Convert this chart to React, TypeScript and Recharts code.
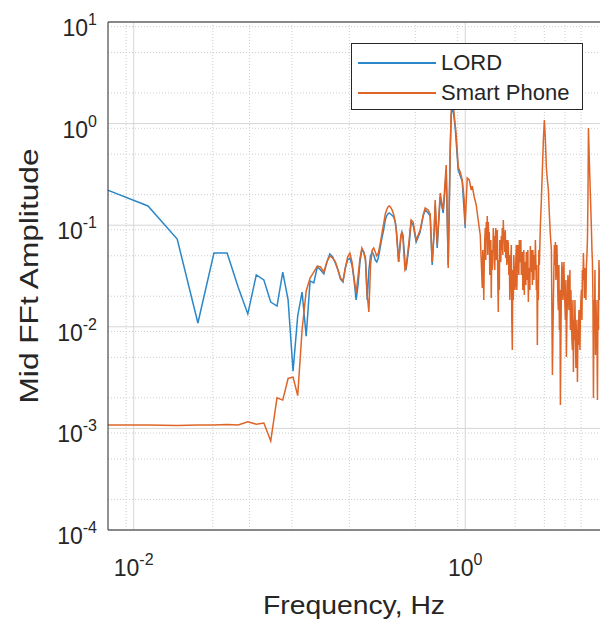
import { LineChart, Line, XAxis, YAxis, CartesianGrid, ReferenceLine, Legend, Label } from "recharts";

const FONT = '"Liberation Sans", Arial, Helvetica, sans-serif';
const AXIS = "#262626";
const BLUE = "#2b87c8";
const ORANGE = "#de6527";

// FFT bins at the low end (shared by both sensors)
const lowFreq = [
  0.0061, 0.0122, 0.0183, 0.0244, 0.0305, 0.0366, 0.0427, 0.0488, 0.0549, 0.061,
  0.0671, 0.0732, 0.0793, 0.0854, 0.0915, 0.0976, 0.1037, 0.1098, 0.1159, 0.122,
  0.1281, 0.1342, 0.1403, 0.1464, 0.1525, 0.1586, 0.1647, 0.1708, 0.1769, 0.183,
  0.1891, 0.1952, 0.2013, 0.2074, 0.2135, 0.2196, 0.2257, 0.2318, 0.2379, 0.244,
  0.2501, 0.2562, 0.2623, 0.2684, 0.2745, 0.2806, 0.2867, 0.2928, 0.2989, 0.305,
  0.3111, 0.3172, 0.3233, 0.3294, 0.3355, 0.3416, 0.3477, 0.3538, 0.3599, 0.366,
  0.3721, 0.3782, 0.3843, 0.3904, 0.3965, 0.4026, 0.4087, 0.4148, 0.4209, 0.427,
  0.4331, 0.4392,
];

const lordLowAmp = [
  0.241, 0.1545, 0.0731, 0.0109, 0.0533, 0.0533, 0.0245, 0.0134, 0.0324, 0.0289,
  0.0175, 0.016, 0.0346, 0.0184, 0.00366, 0.0128, 0.022, 0.0081, 0.0283, 0.027,
  0.0388, 0.0362, 0.0331, 0.0435, 0.0521, 0.0486, 0.0425, 0.0362, 0.0295, 0.0276,
  0.0379, 0.0454, 0.0475, 0.0406, 0.0289, 0.0184, 0.0258, 0.0435, 0.057, 0.0545,
  0.0475, 0.0184, 0.0362, 0.0498, 0.0545, 0.0509, 0.0454, 0.0435, 0.0475, 0.057,
  0.0684, 0.0801, 0.0938, 0.1125, 0.1233, 0.129, 0.132, 0.129, 0.126, 0.1233,
  0.1178, 0.1075, 0.0897, 0.0639, 0.0435, 0.057, 0.0748, 0.0857, 0.0801, 0.0597,
  0.0435, 0.0362,
];

const phoneLowAmp = [
  0.00108, 0.00108, 0.00107, 0.00108, 0.00108, 0.00109, 0.00108, 0.00116, 0.0011, 0.00113,
  0.00075, 0.002, 0.0019, 0.0031, 0.0032, 0.0021, 0.0093, 0.0225, 0.0302, 0.0346,
  0.0396, 0.0388, 0.0346, 0.0435, 0.0498, 0.0475, 0.0435, 0.0362, 0.0302, 0.0282,
  0.0379, 0.0486, 0.0532, 0.0435, 0.0302, 0.0215, 0.0316, 0.0475, 0.0597, 0.0545,
  0.0454, 0.0206, 0.014, 0.0406, 0.057, 0.0597, 0.0545, 0.0498, 0.0532, 0.0624,
  0.0748, 0.0897, 0.1075, 0.129, 0.141, 0.151, 0.1545, 0.151, 0.144, 0.135,
  0.1233, 0.1075, 0.0857, 0.0597, 0.0435, 0.0597, 0.0783, 0.0857, 0.0748, 0.0509,
  0.0362, 0.0379,
];

const lordHighFreq = [
  0.4587, 0.4717, 0.4851, 0.5057, 0.5347, 0.5575, 0.5732, 0.5976, 0.6145, 0.6318,
  0.6496, 0.6587, 0.6773, 0.7063, 0.7262, 0.7365, 0.7572, 0.7678, 0.7894, 0.8116,
  0.823, 0.8405, 0.8701, 0.9072, 0.9591, 1.0,
];
const lordHighAmp = [
  0.0639, 0.1075, 0.1005, 0.0684, 0.0857, 0.1232, 0.1411, 0.1318, 0.1232, 0.0406,
  0.0857, 0.158, 0.0597, 0.1895, 0.1477, 0.1318, 0.243, 0.3494, 0.0406, 0.53,
  1.2, 1.52, 0.905, 0.349, 0.27, 0.0938,
];

const phoneHighFreq = [
  0.4587, 0.4717, 0.4851, 0.5057, 0.5347, 0.5575, 0.5732, 0.5976, 0.6145, 0.6318,
  0.6496, 0.6587, 0.6773, 0.7063, 0.7262, 0.7365, 0.7572, 0.7678, 0.7894, 0.8116,
  0.823, 0.8405, 0.8463, 0.8701, 0.8822, 0.9072, 0.9328, 0.9591, 0.9862, 1.0,
  1.0282, 1.0573, 1.0871, 1.1023, 1.1334, 1.1654, 1.1817, 1.2151, 1.2321, 1.2668,
  1.2846, 1.3025, 1.3393, 1.358, 1.3772, 1.416, 1.4358, 1.4558, 1.4764, 1.518,
  1.5392, 1.5827, 1.6048, 1.6275, 1.6502, 1.6967, 1.7204, 1.7689, 1.7939, 1.819,
  1.8703, 1.9231, 1.9498, 1.9774, 2.005, 2.0615, 2.0902, 2.12, 2.1496, 2.18,
  2.2104, 2.2412, 2.2729, 2.3046, 2.3371, 2.3697, 2.4028, 2.4367, 2.4707, 2.5056,
  2.5405, 2.5764, 2.6123, 2.6487, 2.6853, 2.7227, 2.7612, 2.7996, 2.8392, 2.8788,
  2.919, 2.9603, 3.0016, 3.044, 3.0864, 3.1295, 3.1737, 3.218, 3.2634, 3.309,
  3.3557, 3.4024, 3.45, 3.4988, 3.5475, 3.5977, 3.6478, 3.6987, 3.7497, 3.8019,
  3.8557, 3.9095, 3.9646, 4.0199, 4.076, 4.1336, 4.1912, 4.2505, 4.3098, 4.3706,
  4.4316, 4.4933, 4.5568, 4.6203, 4.6855, 4.7508, 4.8171, 4.8852, 4.9532, 5.0231,
  5.0932, 5.1643, 5.2362, 5.3088, 5.3838, 5.4588, 5.5361, 5.6133, 5.6925, 5.772,
  5.8525, 5.9351, 6.018, 6.1031, 6.188, 6.2754, 6.3628, 6.4521, 6.5434,
];
const phoneHighAmp = [
  0.0715, 0.1125, 0.1075, 0.0715, 0.0897, 0.126, 0.1477, 0.1411, 0.1289, 0.0434,
  0.0897, 0.177, 0.0639, 0.2074, 0.158, 0.1411, 0.2786, 0.391, 0.0379, 0.55,
  1.361, 1.707, 1.524, 0.969, 0.772, 0.374, 0.334, 0.2786, 0.177, 0.1005,
  0.2914, 0.2786, 0.2221, 0.243, 0.1895, 0.158, 0.1318, 0.0938, 0.0801, 0.0241,
  0.0362, 0.0434, 0.1075, 0.1232, 0.1075, 0.0454, 0.0192, 0.0362, 0.0938, 0.0715,
  0.0454, 0.014, 0.023, 0.0639, 0.0783, 0.1125, 0.0857, 0.0715, 0.0454, 0.0653,
  0.0289, 0.00591, 0.0184, 0.0346, 0.0258, 0.0406, 0.057, 0.0715, 0.0434, 0.0324,
  0.0545, 0.0362, 0.0206, 0.0406, 0.0545, 0.0289, 0.0175, 0.0379, 0.0624, 0.0434,
  0.0258, 0.0406, 0.0509, 0.0715, 0.023, 0.00662, 0.0184, 0.0406, 0.1005, 0.177,
  0.3494, 0.69, 1.085, 0.69, 0.3656, 0.2786, 0.2221, 0.126, 0.0801, 0.057,
  0.00335, 0.0184, 0.0639, 0.0684, 0.0434, 0.0379, 0.0146, 0.0093, 0.0017, 0.023,
  0.0346, 0.0258, 0.023, 0.0117, 0.00504, 0.0184, 0.0289, 0.0206, 0.0093, 0.014,
  0.00591, 0.00359, 0.00742, 0.0087, 0.00528, 0.00286, 0.00662, 0.0117, 0.014, 0.023,
  0.0362, 0.0532, 0.0192, 0.0289, 0.0406, 0.0715, 0.905, 0.391, 0.1895, 0.0897,
  0.0434, 0.00199, 0.0093, 0.00528, 0.0117, 0.0019, 0.0093, 0.0289, 0.023,
];

// extra samples inside the dense noisy band above ~1.3 Hz
const phoneBandFreq = [
  1.2756, 1.2936, 1.3116, 1.3209, 1.3301, 1.3486, 1.3675, 1.3868, 1.3965, 1.4062,
  1.4259, 1.4458, 1.466, 1.4867, 1.4967, 1.5071, 1.5286, 1.5499, 1.5608, 1.5717,
  1.5937, 1.616, 1.6389, 1.6617, 1.6733, 1.685, 1.7085, 1.7324, 1.7444, 1.7566,
  1.7812, 1.8064, 1.8317, 1.8445, 1.8574, 1.8834, 1.8965, 1.9097, 1.9365, 1.9634,
  1.9912, 2.019, 2.0331, 2.0473, 2.0759, 2.1048, 2.1348, 2.1646, 2.1952, 2.2258,
  2.2568, 2.2888, 2.3207, 2.3534, 2.3862, 2.4196, 2.4537, 2.4879, 2.5231, 2.5582,
  2.5944, 2.6305, 2.6672, 2.704, 2.7417, 2.7805,
  3.4261, 3.4741, 3.5232, 3.5723, 3.6228, 3.6733, 3.7245, 3.7759, 3.8284, 3.8826,
  3.9368, 3.9923, 4.048, 4.1044, 4.1624, 4.2205, 4.2802, 4.3399, 4.4011, 4.4625,
  4.5247, 4.5886, 4.6525, 4.7182, 4.784, 4.8507, 4.9193, 4.9878, 5.0582, 5.1287,
  5.2003, 5.2727, 5.3459, 5.4214, 5.4969, 5.8123, 5.8933, 5.9765, 6.06, 6.1457,
  6.2312, 6.3192, 6.4072, 6.4971,
];
const phoneBandAmp = [
  0.057, 0.0184, 0.0715, 0.0938, 0.0454, 0.0715, 0.0509, 0.0639, 0.0857, 0.0324,
  0.0715, 0.057, 0.0434, 0.057, 0.0783, 0.0362, 0.0938, 0.0597, 0.0897, 0.0289,
  0.0454, 0.0715, 0.0434, 0.057, 0.0938, 0.0509, 0.0715, 0.0545, 0.0897, 0.0475,
  0.0406, 0.0715, 0.0324, 0.0509, 0.0184, 0.0454, 0.0639, 0.0117, 0.0362, 0.0509,
  0.023, 0.0454, 0.0639, 0.023, 0.0639, 0.0324, 0.0454, 0.0715, 0.0475, 0.023,
  0.057, 0.0434, 0.0258, 0.0434, 0.057, 0.0362, 0.023, 0.0346, 0.057, 0.057,
  0.0289, 0.0362, 0.0434, 0.0406, 0.0289, 0.057,
  0.0362, 0.0406, 0.0289, 0.0639, 0.0184, 0.0406, 0.023, 0.00742, 0.0434, 0.0184,
  0.0434, 0.0164, 0.0289, 0.0117, 0.0324, 0.0146, 0.0362, 0.023, 0.00742, 0.0184,
  0.0117, 0.0184, 0.00393, 0.0117, 0.0093, 0.0146, 0.00591, 0.0184, 0.0117, 0.0289,
  0.0324, 0.0379, 0.0184, 0.0509, 0.177, 0.057, 0.0184, 0.0184, 0.0362, 0.0184,
  0.00742, 0.0184, 0.0454, 0.0184,
];

const xTicks = [0.01, 1];
const yTicks = [1e-4, 1e-3, 1e-2, 1e-1, 1, 10];

const lordData = [
  ...lowFreq.map((f, i) => ({ f, amp: lordLowAmp[i] })),
  ...lordHighFreq.map((f, i) => ({ f, amp: lordHighAmp[i] })),
];
const phoneData = [
  ...lowFreq.map((f, i) => ({ f, amp: phoneLowAmp[i] })),
  ...phoneHighFreq.map((f, i) => ({ f, amp: phoneHighAmp[i] })),
  ...phoneBandFreq.map((f, i) => ({ f, amp: phoneBandAmp[i] })),
].sort((a, b) => a.f - b.f);

// minor grid lines at 2..9 of every decade
const minorOf = (decades: number[]) =>
  decades.flatMap((d) => [2, 3, 4, 5, 6, 7, 8, 9].map((m) => m * d));
const xMinor = [0.007, 0.008, 0.009, 0.1, ...minorOf([0.01, 0.1, 1])];
const yMinor = minorOf([1e-4, 1e-3, 1e-2, 1e-1, 1]);

function YTick(props: any) {
  const { x, y, payload } = props;
  const exp = Math.round(Math.log10(payload.value));
  return (
    <text x={x} y={y + 14} textAnchor="end" fontFamily={FONT} fontSize={23} fill={AXIS}>
      {"10"}
      <tspan dy={-11} fontSize={16}>{exp}</tspan>
    </text>
  );
}

function XTick(props: any) {
  const { x, y, payload } = props;
  const exp = Math.round(Math.log10(payload.value));
  return (
    <text x={x} y={y + 46} textAnchor="middle" fontFamily={FONT} fontSize={23} fill={AXIS}>
      {"10"}
      <tspan dy={-11} fontSize={16}>{exp}</tspan>
    </text>
  );
}

function LegendBox(props: any) {
  const items = props.payload || [];
  return (
    <div
      style={{
        position: "relative",
        width: 232,
        height: 67,
        boxSizing: "border-box",
        border: `1px solid ${AXIS}`,
        background: "#fff",
        fontFamily: FONT,
        fontSize: 22,
        color: AXIS,
      }}
    >
      {items.map((it: any, i: number) => (
        <div key={it.value} style={{ position: "absolute", left: 6, top: 6 + i * 30, height: 26, display: "flex", alignItems: "center" }}>
          <svg width={78} height={4} style={{ display: "block" }}>
            <line x1={0} y1={2} x2={78} y2={2} stroke={it.color} strokeWidth={1.8} />
          </svg>
          <span style={{ marginLeft: 5, lineHeight: "26px" }}>{it.value}</span>
        </div>
      ))}
    </div>
  );
}

export default function App() {
  return (
    <div style={{ position: "absolute", left: 0, top: 0, width: 600, height: 626, background: "#fff" }}>
      <LineChart width={600} height={626} margin={{ top: 22, right: 0, bottom: 0, left: 8 }}>
        <CartesianGrid
          horizontalValues={yMinor}
          verticalValues={xMinor}
          stroke="#cdcdcd"
          strokeDasharray="1 2"
        />
        <CartesianGrid horizontalValues={yTicks} verticalValues={xTicks} stroke="#d6d6d6" />
        <XAxis
          type="number"
          dataKey="f"
          scale="log"
          domain={[0.007, 6.5]}
          allowDataOverflow
          ticks={xTicks}
          tick={<XTick />}
          tickLine={false}
          tickSize={0}
          tickMargin={0}
          axisLine={{ stroke: AXIS }}
          height={96}
        >
          <Label
            content={(p: any) => {
              const vb = p.viewBox || { x: 108, y: 530, width: 492 };
              return (
                <text
                  x={vb.x + vb.width / 2}
                  y={vb.y + 84}
                  textAnchor="middle"
                  fontFamily={FONT}
                  fontSize={26}
                  fill={AXIS}
                  textLength={182}
                  lengthAdjust="spacingAndGlyphs"
                >
                  Frequency, Hz
                </text>
              );
            }}
          />
        </XAxis>
        <YAxis
          type="number"
          scale="log"
          domain={[1e-4, 10]}
          allowDataOverflow
          ticks={yTicks}
          tick={<YTick />}
          tickLine={false}
          tickSize={0}
          tickMargin={11}
          axisLine={{ stroke: AXIS }}
          width={100}
        >
          <Label
            content={(p: any) => {
              const vb = p.viewBox || { x: 8, y: 22, height: 508 };
              const cx = vb.x + 30;
              const cy = vb.y + vb.height / 2;
              return (
                <text
                  x={cx}
                  y={cy}
                  transform={`rotate(-90, ${cx}, ${cy})`}
                  textAnchor="middle"
                  fontFamily={FONT}
                  fontSize={26}
                  fill={AXIS}
                  textLength={255}
                  lengthAdjust="spacingAndGlyphs"
                >
                  Mid FFt Amplitude
                </text>
              );
            }}
          />
        </YAxis>
        <ReferenceLine y={10} stroke={AXIS} />
        <Line
          data={lordData}
          dataKey="amp"
          name="LORD"
          type="linear"
          stroke={BLUE}
          strokeWidth={1.5}
          dot={false}
          isAnimationActive={false}
        />
        <Line
          data={phoneData}
          dataKey="amp"
          name="Smart Phone"
          type="linear"
          stroke={ORANGE}
          strokeWidth={1.5}
          dot={false}
          isAnimationActive={false}
        />
        <Legend
          layout="vertical"
          align="center"
          verticalAlign="middle"
          content={<LegendBox />}
          wrapperStyle={{ left: 351, top: 43, width: 232, height: 67 }}
        />
      </LineChart>
    </div>
  );
}
